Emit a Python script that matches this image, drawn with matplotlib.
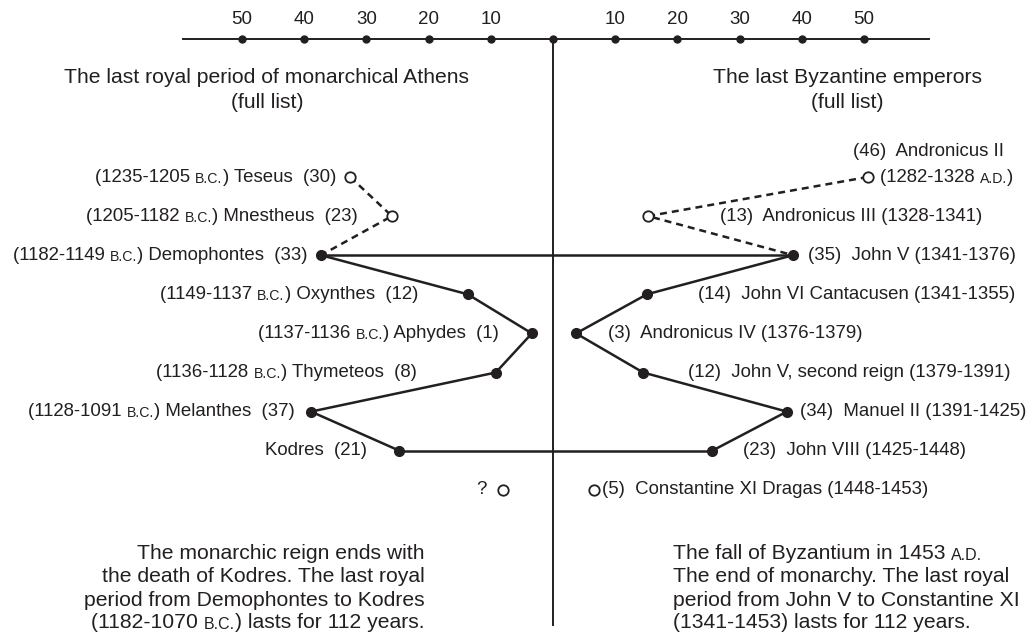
"""Last royal periods: Athens vs Byzantium, mirrored reign-length chart."""

import matplotlib.pyplot as plt
from matplotlib import font_manager

# the original uses a condensed face; fall back to a smaller regular one
_names = {f.name for f in font_manager.fontManager.ttflist}
if "Liberation Sans Narrow" in _names:
    FAMILY, K = "Liberation Sans Narrow", 1.2
else:
    FAMILY, K = "Liberation Sans", 1.0
plt.rcParams["font.family"] = [FAMILY, "DejaVu Sans"]

INK = "#231f20"
LABEL = 13.4 * K      # point labels
NOTE = 15.2 * K       # headings and closing notes
TICK = 13.5 * K
SC = 0.76             # small caps ratio

# --- data -------------------------------------------------------------
ticks = [10, 20, 30, 40, 50]

athens_names = ["Teseus", "Mnestheus", "Demophontes", "Oxynthes", "Aphydes",
                "Thymeteos", "Melanthes", "Kodres", "?"]
athens_periods = ["1235-1205", "1205-1182", "1182-1149", "1149-1137", "1137-1136",
                  "1136-1128", "1128-1091", None, None]
athens_years = [30, 23, 33, 12, 1, 8, 37, 21, None]
# where each point sits on the axis (left side)
athens_pos = [32.6, 25.9, 37.3, 13.7, 3.4, 9.2, 38.9, 24.7, 8.0]
athens_known = [False, False, True, True, True, True, True, True, False]

byz_names = ["Andronicus II", "Andronicus III", "John V", "John VI Cantacusen",
             "Andronicus IV", "John V, second reign", "Manuel II", "John VIII",
             "Constantine XI Dragas"]
byz_periods = ["1282-1328", "1328-1341", "1341-1376", "1341-1355", "1376-1379",
               "1379-1391", "1391-1425", "1425-1448", "1448-1453"]
byz_years = [46, 13, 35, 14, 3, 12, 34, 23, 5]
byz_pos = [50.6, 15.3, 38.6, 15.1, 3.7, 14.5, 37.6, 25.6, 6.6]
byz_known = [False, False, True, True, True, True, True, True, False]

# --- layout (data units: x = years from centre, y = row index) ---------
athens_label_x = [-34.9, -31.4, -39.4, -21.7, -8.7, -21.9, -41.5, -29.9, -10.6]
byz_label_x = [48.2, 26.8, 41.0, 23.3, 8.8, 21.7, 39.7, 30.5, 7.9]
AXIS_Y = -3.53
TICKLABEL_Y = -4.03
BOTTOM_Y = 11.46


def chain(ax, x, y, parts, ha):
    """Write text made of (string, size) pieces, glued side by side."""
    order = parts if ha == "left" else parts[::-1]
    first, size = order[0]
    prev = ax.text(x, y, first, ha=ha, va="center", fontsize=size, color=INK)
    for s, size in order[1:]:
        xy = (1, 0) if ha == "left" else (0, 0)
        prev = ax.annotate(s, xy=xy, xycoords=prev, ha=ha, va="bottom",
                           fontsize=size, color=INK)
    return prev


fig = plt.figure(figsize=(10.30, 6.34), dpi=100)
ax = fig.add_axes([0, 0, 1, 1])
ax.set_xlim(-88.91, 76.69)
ax.set_ylim(11.688, -4.527)
ax.axis("off")

# top scale
ax.plot([-59.5, 60.5], [AXIS_Y, AXIS_Y], color=INK, lw=1.4, zorder=2)
ax.plot([0, 0], [AXIS_Y, BOTTOM_Y], color=INK, lw=1.4, zorder=2)
tick_x = [-t for t in ticks] + [0] + ticks
ax.plot(tick_x, [AXIS_Y] * len(tick_x), "o", color=INK, ms=5, zorder=3)
for t in ticks:
    for sgn in (-1, 1):
        ax.text(sgn * t, TICKLABEL_Y, str(t), ha="center", va="center",
                fontsize=TICK, color=INK)

rows = list(range(len(athens_names)))
ax_x = [-p for p in athens_pos]

# Athens line
ax.plot(ax_x[:3], rows[:3], color=INK, lw=1.8, ls=(0, (2.8, 2.0)), zorder=2)
ax.plot(ax_x[2:8], rows[2:8], color=INK, lw=1.8, zorder=2)
# Byzantium line
ax.plot(byz_pos[:3], rows[:3], color=INK, lw=1.8, ls=(0, (2.8, 2.0)), zorder=2)
ax.plot(byz_pos[2:8], rows[2:8], color=INK, lw=1.8, zorder=2)
# the two bridges
ax.plot([ax_x[2], byz_pos[2]], [rows[2], rows[2]], color=INK, lw=1.8, zorder=2)
ax.plot([ax_x[7], byz_pos[7]], [rows[7], rows[7]], color=INK, lw=1.8, zorder=2)

for xs, known in ((ax_x, athens_known), (byz_pos, byz_known)):
    for x, r, k in zip(xs, rows, known):
        if k:
            ax.plot(x, r, "o", color=INK, ms=7, zorder=4)
        else:
            ax.plot(x, r, "o", mfc="white", mec=INK, mew=1.3, ms=7.5, zorder=4)

# Athens labels
for r, (name, per, yr, lx) in enumerate(zip(athens_names, athens_periods,
                                            athens_years, athens_label_x)):
    if per:
        parts = [(f"({per} ", LABEL), ("B.C.", LABEL * SC),
                 (f") {name}  ({yr})", LABEL)]
    elif yr is not None:
        parts = [(f"{name}  ({yr})", LABEL)]
    else:
        parts = [(name, LABEL)]
    chain(ax, lx, r, parts, "right")

# Byzantine labels
for r, (name, per, yr, lx) in enumerate(zip(byz_names, byz_periods,
                                            byz_years, byz_label_x)):
    if r == 0:
        chain(ax, lx, r - 0.64, [(f"({yr})  {name}", LABEL)], "left")
        chain(ax, 52.6, r, [(f"({per} ", LABEL), ("A.D.", LABEL * SC),
                            (")", LABEL)], "left")
    else:
        chain(ax, lx, r, [(f"({yr})  {name} ({per})", LABEL)], "left")

# headings
for x, title in ((-46.0, "The last royal period of monarchical Athens"),
                 (47.3, "The last Byzantine emperors")):
    ax.text(x, -2.557, title, ha="center", va="center", fontsize=NOTE, color=INK)
    ax.text(x, -1.918, "(full list)", ha="center", va="center",
            fontsize=NOTE, color=INK)

# closing notes
left_note = [[("The monarchic reign ends with", NOTE)],
             [("the death of Kodres. The last royal", NOTE)],
             [("period from Demophontes to Kodres", NOTE)],
             [("(1182-1070 ", NOTE), ("B.C.", NOTE * SC),
              (") lasts for 112 years.", NOTE)]]
right_note = [[("The fall of Byzantium in 1453 ", NOTE), ("A.D.", NOTE * SC)],
              [("The end of monarchy. The last royal", NOTE)],
              [("period from John V to Constantine XI", NOTE)],
              [("(1341-1453) lasts for 112 years.", NOTE)]]
note_rows = [9.64, 10.23, 10.82, 11.40]
for r, parts in zip(note_rows, left_note):
    chain(ax, -20.7, r, parts, "right")
for r, parts in zip(note_rows, right_note):
    chain(ax, 19.3, r, parts, "left")

fig.savefig("out.png", dpi=100)
plt.close(fig)
